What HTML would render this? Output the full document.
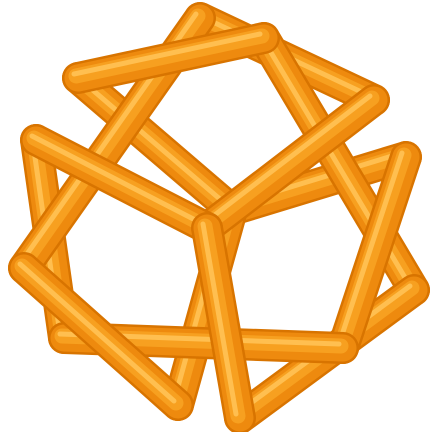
<!DOCTYPE html>
<html><head><meta charset="utf-8"><style>html,body{margin:0;background:#fff}svg{display:block}</style></head>
<body>
<svg id="knot" width="432" height="432" viewBox="0 0 432 432" xmlns="http://www.w3.org/2000/svg"></svg>
<script>
const vertexNames = ['A','B','C','D','E','F','G','H','I','J','K','L','M','P'];
const vertexX = [200,264,78,374,36,207,406,24,414,343,178,240,64,232];
const vertexY = [18,38,78,100,140,228,157,268,290,348,405,418,338,210];
const segments = [['A','D'],['C','P'],['G','P'],['P','K'],['E','M'],['B','I'],['L','I'],['G','J'],['A','H'],['J','M'],['H','K'],['D','F'],['C','B'],['E','F'],['F','L']];
const svg = document.getElementById('knot');
const NS = 'http://www.w3.org/2000/svg';
function pt(n){const i=vertexNames.indexOf(n);return [vertexX[i],vertexY[i]];}
segments.forEach(function(s){
  const a=pt(s[0]), b=pt(s[1]);
  const g=document.createElementNS(NS,'g');
  
  
  const layers=[['#d87400',32,0,0],['#ee8a0e',27,0,0],['#f7a020',15,-2,-2],['#ffbf50',5,-4,-4]];
  layers.forEach(function(l){
    const ln=document.createElementNS(NS,'line');
    ln.setAttribute('x1',a[0]+l[2]);ln.setAttribute('y1',a[1]+l[3]);
    ln.setAttribute('x2',b[0]+l[2]);ln.setAttribute('y2',b[1]+l[3]);
    ln.setAttribute('stroke',l[0]);ln.setAttribute('stroke-width',l[1]);
    ln.setAttribute('stroke-linecap','round');
    g.appendChild(ln);
  });
  svg.appendChild(g);
});
</script>
</body></html>
